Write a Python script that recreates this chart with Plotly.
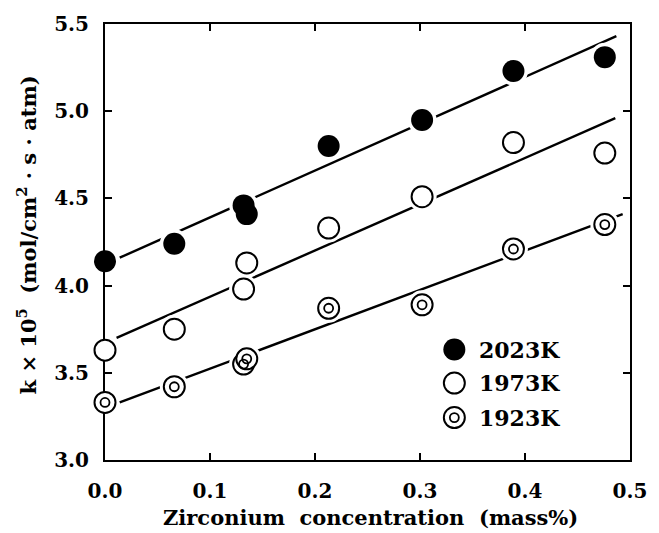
import plotly.graph_objects as go

# ---- data ----
conc = [0.0, 0.066, 0.132, 0.135, 0.213, 0.302, 0.389, 0.476]
k_2023 = [4.14, 4.24, 4.46, 4.41, 4.80, 4.95, 5.23, 5.31]
k_1973 = [3.63, 3.75, 3.98, 4.13, 4.33, 4.51, 4.82, 4.76]
k_1923 = [3.33, 3.42, 3.55, 3.58, 3.87, 3.89, 4.21, 4.35]

fit_x_2023 = [0.014, 0.487]
fit_y_2023 = [4.16, 5.43]
fit_x_1973 = [0.011, 0.486]
fit_y_1973 = [3.70, 4.96]
fit_x_1923 = [0.014, 0.493]
fit_y_1923 = [3.33, 4.41]

series_names = ["2023K", "1973K", "1923K"]
x_ticks = [0.0, 0.1, 0.2, 0.3, 0.4, 0.5]
y_ticks = [3.0, 3.5, 4.0, 4.5, 5.0, 5.5]

FONT = "DejaVu Serif"
BLACK = "black"
MS = 21      # marker diameter
INNER = 9    # inner ring of double circle
LW = 2

fig = go.Figure()

# fitted lines
for fx, fy in [(fit_x_2023, fit_y_2023), (fit_x_1973, fit_y_1973), (fit_x_1923, fit_y_1923)]:
    fig.add_trace(go.Scatter(x=fx, y=fy, mode="lines",
                             line=dict(color=BLACK, width=2.4),
                             showlegend=False, hoverinfo="skip"))

# white halos so the lines break around the markers (not on the axis at x=0)
halo_idx = [i for i, v in enumerate(conc) if v > 0]
for ys in (k_2023, k_1973, k_1923):
    fig.add_trace(go.Scatter(x=[conc[i] for i in halo_idx], y=[ys[i] for i in halo_idx],
                             mode="markers",
                             marker=dict(symbol="circle", size=MS + 8, color="white",
                                         line=dict(width=0)),
                             showlegend=False, hoverinfo="skip", cliponaxis=False))

# markers
fig.add_trace(go.Scatter(x=conc, y=k_2023, mode="markers", name=series_names[0],
                         marker=dict(symbol="circle", size=MS + 1, color=BLACK,
                                     line=dict(width=0)),
                         showlegend=False, cliponaxis=False))
fig.add_trace(go.Scatter(x=conc, y=k_1973, mode="markers", name=series_names[1],
                         marker=dict(symbol="circle", size=MS, color="white",
                                     line=dict(color=BLACK, width=LW)),
                         showlegend=False, cliponaxis=False))
fig.add_trace(go.Scatter(x=conc, y=k_1923, mode="markers", name=series_names[2],
                         marker=dict(symbol="circle", size=MS, color="white",
                                     line=dict(color=BLACK, width=LW)),
                         showlegend=False, cliponaxis=False))
fig.add_trace(go.Scatter(x=conc, y=k_1923, mode="markers", name=series_names[2],
                         marker=dict(symbol="circle-open", size=INNER, color=BLACK,
                                     line=dict(color=BLACK, width=1.8)),
                         showlegend=False, cliponaxis=False, hoverinfo="skip"))

# ---- hand-drawn legend on an overlay axis in paper fractions ----
leg_x = 0.6654
leg_y = [0.2534, 0.1765, 0.0973]
leg_tx = 0.7084
fig.add_trace(go.Scatter(x=[leg_x], y=[leg_y[0]], xaxis="x2", yaxis="y2", mode="markers",
                         marker=dict(symbol="circle", size=MS + 1, color=BLACK, line=dict(width=0)),
                         showlegend=False, hoverinfo="skip"))
fig.add_trace(go.Scatter(x=[leg_x], y=[leg_y[1]], xaxis="x2", yaxis="y2", mode="markers",
                         marker=dict(symbol="circle", size=MS, color="white",
                                     line=dict(color=BLACK, width=LW)),
                         showlegend=False, hoverinfo="skip"))
fig.add_trace(go.Scatter(x=[leg_x], y=[leg_y[2]], xaxis="x2", yaxis="y2", mode="markers",
                         marker=dict(symbol="circle", size=MS, color="white",
                                     line=dict(color=BLACK, width=LW)),
                         showlegend=False, hoverinfo="skip"))
fig.add_trace(go.Scatter(x=[leg_x], y=[leg_y[2]], xaxis="x2", yaxis="y2", mode="markers",
                         marker=dict(symbol="circle-open", size=INNER, color=BLACK,
                                     line=dict(color=BLACK, width=1.8)),
                         showlegend=False, hoverinfo="skip"))

annotations = []
for name, yy in zip(series_names, leg_y):
    annotations.append(dict(x=leg_tx, y=yy, xref="paper", yref="paper", text=name,
                            showarrow=False, xanchor="left", yanchor="middle",
                            font=dict(family=FONT, size=22, color=BLACK, weight="bold")))

# axis titles
annotations.append(dict(x=0.505, y=-0.131, xref="paper", yref="paper",
                        text="Zirconium\u00a0\u00a0concentration\u00a0\u00a0(mass%)",
                        showarrow=False, xanchor="center", yanchor="middle",
                        font=dict(family=FONT, size=21, color=BLACK, weight="bold")))
annotations.append(dict(x=-0.1477, y=0.516, xref="paper", yref="paper", textangle=-90,
                        text="k\u00a0\u00d7\u00a010<sup>5</sup>\u00a0\u00a0(mol/cm<sup>2</sup>\u00a0\u00b7\u00a0s\u00a0\u00b7\u00a0atm)",
                        showarrow=False, xanchor="center", yanchor="middle",
                        font=dict(family=FONT, size=21, color=BLACK, weight="bold")))

tick_font = dict(family=FONT, size=20, color=BLACK, weight="bold")
fig.update_layout(
    width=659, height=533,
    margin=dict(l=105, r=19, t=18, b=73),
    paper_bgcolor="white", plot_bgcolor="white",
    showlegend=False,
    xaxis=dict(range=[0, 0.5], tickvals=x_ticks, tickformat=".1f",
               ticks="inside", ticklen=7, tickwidth=2, tickcolor=BLACK,
               showline=True, linecolor=BLACK, linewidth=2, mirror="allticks",
               showgrid=False, zeroline=False, tickfont=tick_font,
               ticklabelstandoff=12, layer="below traces", fixedrange=True),
    yaxis=dict(range=[3.0, 5.5], tickvals=y_ticks, tickformat=".1f",
               ticks="inside", ticklen=7, tickwidth=2, tickcolor=BLACK,
               showline=True, linecolor=BLACK, linewidth=2, mirror="allticks",
               showgrid=False, zeroline=False, tickfont=tick_font,
               ticklabelstandoff=10, layer="below traces", fixedrange=True),
    xaxis2=dict(range=[0, 1], overlaying="x", visible=False, fixedrange=True),
    yaxis2=dict(range=[0, 1], overlaying="y", visible=False, fixedrange=True),
    annotations=annotations,
)

fig.write_html("out.html", config={"displayModeBar": False},
               post_script="document.body.style.margin='0';document.body.style.overflow='hidden';")
